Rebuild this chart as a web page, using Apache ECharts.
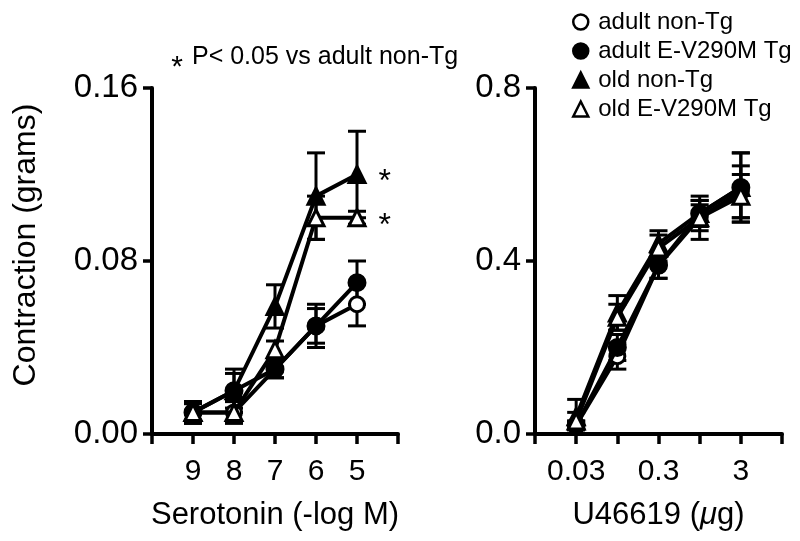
<!DOCTYPE html>
<html><head><meta charset="utf-8">
<script src="https://cdn.jsdelivr.net/npm/echarts@6/dist/echarts.min.js"></script>
<style>html,body{margin:0;padding:0;background:#fff}#c{width:800px;height:541px}</style>
</head><body><div id="c"></div>
<script>
const FONT = 'Liberation Sans, Arial, Helvetica, sans-serif';

// ---- data ----
const groups = ['adult non-Tg', 'adult E-V290M Tg', 'old non-Tg', 'old E-V290M Tg'];
const serotoninDoses = [9, 8, 7, 6, 5];            // -log M
const serotoninTickLabels = ['9', '8', '7', '6', '5'];
const u46619Doses = ['0.03', '0.1', '0.3', '1', '3']; // µg
const u46619TickLabels = ['0.03', '0.3', '3'];
const significant = [false, false, true, true];   // * P<0.05 vs adult non-Tg (serotonin, top dose)

// Serotonin (grams)
const seroAdultNonTg    = [0.010, 0.010, 0.030, 0.050, 0.060];
const seroAdultNonTgErr = [0.005, 0.005, 0.004, 0.008, 0.010];
const seroAdultTg       = [0.010, 0.020, 0.030, 0.050, 0.070];
const seroAdultTgErr    = [0.005, 0.008, 0.004, 0.010, 0.010];
const seroOldNonTg      = [0.010, 0.020, 0.059, 0.110, 0.120];
const seroOldNonTgErr   = [0.005, 0.010, 0.010, 0.020, 0.020];
const seroOldTg         = [0.010, 0.010, 0.039, 0.100, 0.100];
const seroOldTgErr      = [0.004, 0.005, 0.004, 0.010, 0.003];

// U46619 (grams)
const uAdultNonTg    = [0.02, 0.18, 0.39, 0.50, 0.56];
const uAdultNonTgErr = [0.01, 0.03, 0.03, 0.05, 0.06];
const uAdultTg       = [0.02, 0.20, 0.39, 0.51, 0.57];
const uAdultTgErr    = [0.01, 0.03, 0.03, 0.03, 0.08];
const uOldNonTg      = [0.04, 0.28, 0.44, 0.51, 0.57];
const uOldNonTgErr   = [0.04, 0.04, 0.03, 0.03, 0.08];
const uOldTg         = [0.03, 0.27, 0.43, 0.50, 0.55];
const uOldTgErr      = [0.02, 0.03, 0.03, 0.03, 0.05];

// ---- styling ----
const symbols = ['circle', 'circle', 'triangle', 'triangle'];
const fills = ['#fff', '#000', '#000', '#fff'];
const symbolSizes = [15, 16, 16, 16];

function errRender(params, api) {
  const x = api.value(0), lo = api.value(1), hi = api.value(2);
  const a = api.coord([x, lo]), b = api.coord([x, hi]);
  const hw = 9;
  const style = { stroke: '#000', lineWidth: 3 };
  return { type: 'group', children: [
    { type: 'line', shape: { x1: a[0], y1: a[1], x2: b[0], y2: b[1] }, style },
    { type: 'line', shape: { x1: a[0] - hw, y1: a[1], x2: a[0] + hw, y2: a[1] }, style },
    { type: 'line', shape: { x1: b[0] - hw, y1: b[1], x2: b[0] + hw, y2: b[1] }, style }
  ]};
}

function panelSeries(idx, xs, means, errs, withSig) {
  const out = [];
  groups.forEach((g, i) => {
    out.push({
      type: 'custom', name: g + ' SEM', xAxisIndex: idx, yAxisIndex: idx, silent: true, z: 2,
      renderItem: errRender,
      encode: { x: 0, y: [1, 2] },
      data: xs.map((x, j) => [x, means[i][j] - errs[i][j], means[i][j] + errs[i][j]])
    });
  });
  groups.forEach((g, i) => {
    out.push({
      type: 'line', name: g, xAxisIndex: idx, yAxisIndex: idx, z: 3 + i,
      symbol: symbols[i], symbolSize: symbolSizes[i], showAllSymbol: true,
      itemStyle: { color: fills[i], borderColor: '#000', borderWidth: 3 },
      lineStyle: { color: '#000', width: 4 },
      emphasis: { disabled: true },
      data: xs.map((x, j) => {
        const item = { value: [x, means[i][j]] };
        if (withSig && significant[i] && j === xs.length - 1) {
          item.label = { show: true, formatter: '*', position: 'right', distance: 12,
            fontSize: 32, fontFamily: FONT, color: '#000', offset: [0, 8] };
        }
        return item;
      })
    });
  });
  return out;
}

const axisLine = { show: true, lineStyle: { color: '#000', width: 4 } };
const tickStyle = { show: true, length: 10, lineStyle: { color: '#000', width: 3.5 } };

const option = {
  animation: false,
  backgroundColor: '#fff',
  grid: [
    { left: 152, top: 88, width: 246, height: 346 },
    { left: 535, top: 88, width: 247, height: 346 }
  ],
  xAxis: [
    { gridIndex: 0, type: 'value', min: 4, max: 10, interval: 1, inverse: true,
      axisLine, axisTick: tickStyle, splitLine: { show: false },
      axisLabel: { margin: 23, fontSize: 30, fontFamily: FONT, color: '#000',
        formatter: v => serotoninTickLabels.includes(String(v)) ? String(v) : '' },
      name: 'Serotonin (-log M)', nameLocation: 'middle', nameGap: 66,
      nameTextStyle: { fontSize: 31, fontFamily: FONT, color: '#000' } },
    { gridIndex: 1, type: 'value', min: 0, max: 6, interval: 1,
      axisLine, axisTick: tickStyle, splitLine: { show: false },
      axisLabel: { margin: 23, fontSize: 30, fontFamily: FONT, color: '#000',
        formatter: v => { const d = u46619Doses[Math.round(v) - 1]; return u46619TickLabels.includes(d) ? d : ''; } },
      name: '{n|U46619 (}{i|μ}{n|g)}', nameLocation: 'middle', nameGap: 66,
      nameTextStyle: { rich: {
        n: { fontSize: 31, fontFamily: FONT, color: '#000' },
        i: { fontSize: 31, fontFamily: FONT, color: '#000', fontStyle: 'italic' } } } }
  ],
  yAxis: [
    { gridIndex: 0, type: 'value', min: 0, max: 0.16, interval: 0.08,
      axisLine, axisTick: { ...tickStyle, length: 9 }, splitLine: { show: false },
      axisLabel: { margin: 14, fontSize: 33, fontFamily: FONT, color: '#000', formatter: v => v.toFixed(2) } },
    { gridIndex: 1, type: 'value', min: 0, max: 0.8, interval: 0.4,
      axisLine, axisTick: { ...tickStyle, length: 9 }, splitLine: { show: false },
      axisLabel: { margin: 14, fontSize: 33, fontFamily: FONT, color: '#000', formatter: v => v.toFixed(1) } }
  ],
  legend: {
    orient: 'vertical', left: 567, top: 5, itemWidth: 15, itemHeight: 15, itemGap: 5,
    selectedMode: false,
    itemStyle: { borderColor: '#000', borderWidth: 2.5 },
    textStyle: { fontSize: 24, fontFamily: FONT, color: '#000', lineHeight: 24, padding: [0, 0, 0, 5] },
    data: groups.map((g, i) => ({ name: g, icon: symbols[i], itemStyle: { color: fills[i] } }))
  },
  graphic: [
    { type: 'text', x: 26, y: 245, rotation: Math.PI / 2,
      style: { text: 'Contraction (grams)', font: '32px ' + FONT, fill: '#000', align: 'center', verticalAlign: 'middle' } },
    { type: 'text', x: 177, y: 68,
      style: { text: '*', font: '30px ' + FONT, fill: '#000', align: 'center', verticalAlign: 'middle' } },
    { type: 'text', x: 192, y: 57,
      style: { text: 'P< 0.05 vs adult non-Tg', font: '25px ' + FONT, fill: '#000', align: 'left', verticalAlign: 'middle' } }
  ],
  series: [
    ...panelSeries(0, serotoninDoses,
      [seroAdultNonTg, seroAdultTg, seroOldNonTg, seroOldTg],
      [seroAdultNonTgErr, seroAdultTgErr, seroOldNonTgErr, seroOldTgErr], true),
    ...panelSeries(1, u46619Doses.map((d, j) => j + 1),
      [uAdultNonTg, uAdultTg, uOldNonTg, uOldTg],
      [uAdultNonTgErr, uAdultTgErr, uOldNonTgErr, uOldTgErr], false)
  ]
};

echarts.init(document.getElementById('c'), null, { renderer: 'canvas' }).setOption(option);
</script></body></html>
